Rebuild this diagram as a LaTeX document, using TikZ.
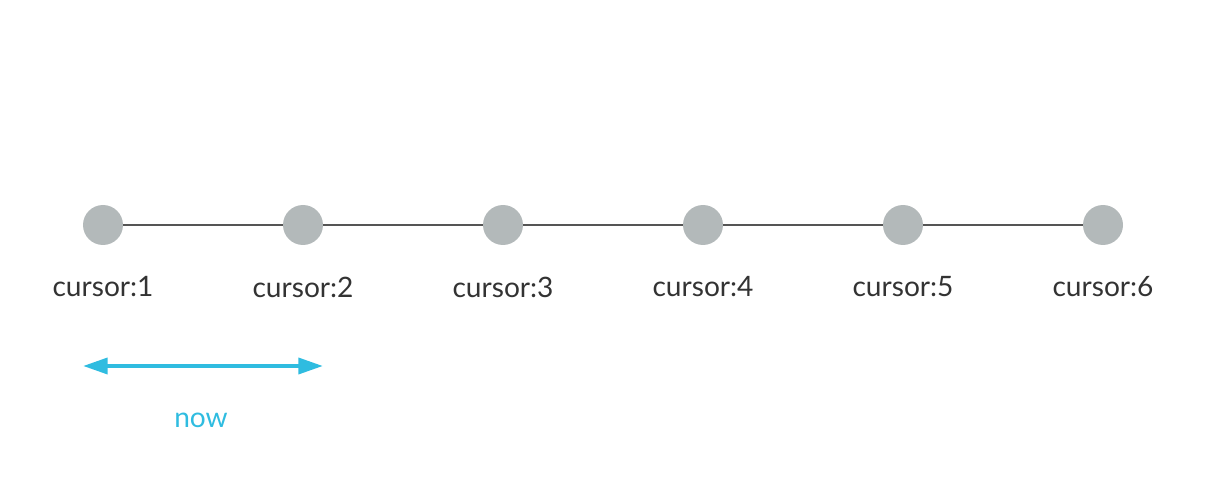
\documentclass[tikz,border=0pt]{standalone}
\usepackage{fontspec}
\setmainfont{Lato}
\usetikzlibrary{arrows.meta}
\definecolor{dotgray}{HTML}{B3B9BA}
\definecolor{linegray}{HTML}{555555}
\definecolor{nowblue}{HTML}{2FBCE0}
\begin{document}
\begin{tikzpicture}[x=0.02cm,y=-0.02cm,
    cursordot/.style={circle,fill=dotgray,minimum size=0.8cm,inner sep=0pt},
    cursorlabel/.style={font=\fontsize{16}{19}\selectfont,text=black!80}]
        \useasboundingbox (0,0) rectangle (1205,489);
        % Cursors
        \foreach \i in {1,...,6} {
            \node[cursordot] (c\i) at (200*\i-97,225) {};
            \node[cursorlabel] (l\i) at (200*\i-97,287) {cursor:\i};
        }
        % Links
        \foreach \i [count=\j from 2] in {1,...,5}
            \draw[linegray,line width=1.1pt] (c\i) -- (c\j);
        % Window
        \coordinate (wl) at (83,366);
        \coordinate (wr) at (323,366);
        \draw[{Triangle[length=14pt,width=9pt]}-{Triangle[length=14pt,width=9pt]},line width=2.3pt,nowblue] (wl) -- (wr);
        \node[font=\fontsize{16}{19}\selectfont,text=nowblue] (now) at (201,420) {now};
    \end{tikzpicture}
\end{document}
